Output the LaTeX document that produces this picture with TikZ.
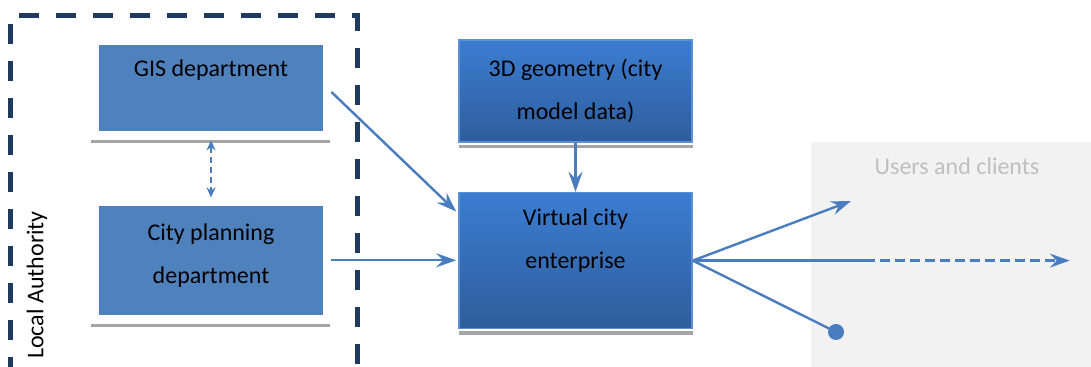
\documentclass[tikz,border=0pt]{standalone}
\usepackage{fontspec}
\setmainfont{Carlito}
\usetikzlibrary{arrows.meta,positioning}
\definecolor{deptblue}{HTML}{4F81BD}
\definecolor{boxtop}{HTML}{3B7DD1}
\definecolor{boxbot}{HTML}{2F5D9C}
\definecolor{boxedge}{HTML}{5B8FD6}
\definecolor{linkblue}{HTML}{4A7DC0}
\definecolor{authnavy}{HTML}{1F3A5F}
\definecolor{shelfgray}{HTML}{A5A5A5}
\definecolor{usergray}{HTML}{F2F2F2}
\definecolor{usertext}{HTML}{BFBFBF}

\begin{document}
\begin{tikzpicture}[
    x=0.5pt, y=0.5pt,
    font=\fontsize{12}{21.5}\selectfont,
    dept/.style={fill=deptblue, minimum width=112pt, align=center, inner sep=0pt},
    hub/.style={top color=boxtop, bottom color=boxbot, draw=boxedge, line width=0.8pt, minimum width=116.5pt, align=center, inner sep=0pt},
    shelf/.style={shelfgray, line width=1.6pt},
    link/.style={linkblue, line width=1.2pt},
    tip/.style={-{Stealth[length=10pt,width=7pt,inset=3.5pt]}}
]
    \path[use as bounding box, clip] (0,0) rectangle (1091,367);

    \node (clients) [fill=usergray, minimum width=140pt, minimum height=112.5pt, inner sep=0pt, anchor=south west] at (811,0) {};
    \node (users) [text=usertext] at (957,201) {Users and clients};

    \draw[authnavy, line width=2.5pt, dash pattern=on 10pt off 8.5pt] (10,-10) -- (10,351) -- (357,351) -- (357,-10);
    \node (auth) [rotate=90] at (37,82) {Local Authority};

    \node (gis) [dept, minimum height=43pt] at (211,279) {GIS department\\[-2pt] \mbox{}};
    \node (plan) [dept, minimum height=54.5pt, below=37pt of gis] {City planning\\department\\[-15pt] \mbox{}};
    \node (geo) [hub, minimum height=51pt] at (575.5,276) {3D geometry (city\\model data)};
    \node (venture) [hub, minimum height=68pt, below=24.5pt of geo] {Virtual city\\enterprise\\ \mbox{}};

    \draw[shelf] ([shift={(-4pt,-5pt)}]gis.south west) -- ([shift={(3.5pt,-5pt)}]gis.south east);
    \draw[shelf] ([shift={(-4pt,-5pt)}]plan.south west) -- ([shift={(3.5pt,-5pt)}]plan.south east);
    \draw[shelf] ([shift={(0.5pt,-1.8pt)}]geo.south west) -- ([yshift=-1.8pt]geo.south east);
    \draw[shelf] ([shift={(0.5pt,-1.8pt)}]venture.south west) -- ([yshift=-1.8pt]venture.south east);

    \draw[link, line width=1pt, dash pattern=on 3pt off 2pt, {Stealth[length=5pt,width=4.5pt]}-{Stealth[length=5pt,width=4.5pt]}] ([yshift=-4.5pt]gis.south) -- ([yshift=4pt]plan.north);
    \draw[link, tip] ([shift={(4pt,-2pt)}]gis.east) -- ([shift={(-1pt,24.5pt)}]venture.west);
    \draw[link, tip] ([xshift=4pt]plan.east) -- ([xshift=-1pt]plan.east -| venture.west);
    \draw[link, tip] (geo) -- (venture);

    \coordinate (seen) at (851,166);
    \coordinate (fade) at ([xshift=86pt]venture.east);
    \coordinate (far) at ([xshift=188.5pt]venture.east);
    \coordinate (stop) at (836,35);
    \draw[link, tip] (venture.east) -- (seen);
    \draw[link] (venture.east) -- (fade);
    \draw[link, tip, dash pattern=on 5pt off 2.5pt] (fade) -- (far);
    \draw[link] (venture.east) -- (stop);
    \fill[linkblue] (stop) circle (4pt);
\end{tikzpicture}
\end{document}
